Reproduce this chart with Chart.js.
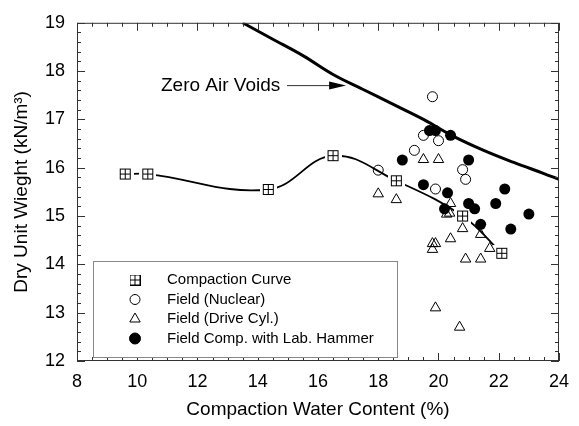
<!DOCTYPE html>
<html>
<head>
<meta charset="utf-8">
<script src="https://cdn.jsdelivr.net/npm/chart.js@4.4.1/dist/chart.umd.min.js"></script>
<style>
  html, body { margin: 0; padding: 0; background: #fff; }
</style>
</head>
<body>
<canvas id="chart" width="579" height="426"></canvas>
<script>
const seriesNames = ['Compaction Curve', 'Field (Nuclear)', 'Field (Drive Cyl.)', 'Field Comp. with Lab. Hammer'];

// compaction curve (lab)
const compactionW = [9.6, 10.35, 14.35, 16.5, 18.6, 20.8, 22.1];
const compactionG = [15.87, 15.87, 15.55, 16.25, 15.73, 15.0, 14.23];

// field (nuclear) - open circles
const nuclearW = [19.8, 19.5, 20.0, 19.2, 18.0, 20.8, 20.9, 19.9];
const nuclearG = [17.47, 16.67, 16.56, 16.36, 15.95, 15.96, 15.76, 15.56];

// field (drive cylinder) - open triangles
const driveW = [19.5, 20.0, 18.0, 18.6, 20.4, 20.27, 20.37, 20.8, 21.4, 20.4, 19.8, 19.9, 19.8, 21.7, 20.9, 21.4, 19.9, 20.7];
const driveG = [16.17, 16.17, 15.46, 15.34, 15.26, 15.04, 15.06, 14.74, 14.62, 14.53, 14.43, 14.43, 14.31, 14.33, 14.11, 14.11, 13.1, 12.7];

// field compaction with lab hammer - filled circles
const hammerW = [19.7, 19.9, 20.4, 18.8, 21.0, 19.5, 20.3, 22.2, 20.2, 21.0, 21.2, 21.9, 23.0, 22.4, 21.4];
const hammerG = [16.77, 16.77, 16.67, 16.16, 16.16, 15.65, 15.48, 15.56, 15.15, 15.26, 15.15, 15.26, 15.04, 14.73, 14.83];

// zero air voids line
const zavW = [13.5, 14.5, 15.5, 16.5, 17.5, 18.5, 19.5, 20.5, 21.5, 22.5, 23.5, 24.0];
const zavG = [19.0, 18.66, 18.32, 17.93, 17.62, 17.31, 17.0, 16.65, 16.36, 16.11, 15.88, 15.76];

const zavLabel = 'Zero Air Voids';
const xTitle = 'Compaction Water Content (%)';
const yTitle = 'Dry Unit Wieght (kN/m\u00b3)';

Chart.defaults.font.family = "'Liberation Sans', Arial, sans-serif";
Chart.defaults.color = '#000';

function toPoints(xs, ys) {
  return xs.map((x, i) => ({ x: x, y: ys[i] }));
}

// square with a cross, optional white halo so the curve breaks near it
function makeBoxCross(halo) {
  const size = 11;
  const full = size + halo * 2;
  const c = document.createElement('canvas');
  c.width = full; c.height = full;
  const g = c.getContext('2d');
  if (halo > 0) {
    g.fillStyle = '#fff';
    g.fillRect(0, 0, full, full);
  }
  g.fillStyle = '#fff';
  g.fillRect(halo, halo, size, size);
  g.strokeStyle = '#000';
  g.lineWidth = 1;
  g.strokeRect(halo + 0.5, halo + 0.5, size - 1, size - 1);
  g.beginPath();
  g.moveTo(halo + 5.5, halo); g.lineTo(halo + 5.5, halo + size);
  g.moveTo(halo, halo + 5.5); g.lineTo(halo + size, halo + 5.5);
  g.stroke();
  return c;
}
const boxCross = makeBoxCross(3);
const boxCrossPlain = makeBoxCross(0);

const symbols = [
  { pointStyle: boxCrossPlain, radius: 5, fill: '#fff' },
  { pointStyle: 'circle', radius: 5, fill: 'rgba(0,0,0,0)' },
  { pointStyle: 'triangle', radius: 6, fill: 'rgba(0,0,0,0)' },
  { pointStyle: 'circle', radius: 5.5, fill: '#000' }
];

const frameTicks = {
  id: 'frameTicks',
  afterDatasetsDraw(chart) {
    const { ctx, chartArea: a, scales: { x, y } } = chart;
    ctx.save();
    ctx.strokeStyle = '#333';
    ctx.lineWidth = 1;
    ctx.strokeRect(a.left + 0.5, a.top + 0.5, a.right - a.left - 1, a.bottom - a.top - 1);
    ctx.beginPath();
    for (let i = 0; i <= 32; i++) {
      const px = Math.round(x.getPixelForValue(8 + i * 0.5)) + 0.5;
      const len = i % 4 === 0 ? 8 : 4;
      ctx.moveTo(px, a.bottom); ctx.lineTo(px, a.bottom - len);
      ctx.moveTo(px, a.top); ctx.lineTo(px, a.top + len);
    }
    for (let i = 0; i <= 35; i++) {
      const py = Math.round(y.getPixelForValue(12 + i * 0.2)) + 0.5;
      const len = i % 5 === 0 ? 8 : 4;
      ctx.moveTo(a.left, py); ctx.lineTo(a.left + len, py);
      ctx.moveTo(a.right, py); ctx.lineTo(a.right - len, py);
    }
    ctx.stroke();

    // annotation for the zero air voids line
    const ty = y.getPixelForValue(17.7);
    ctx.font = "19px 'Liberation Sans', Arial, sans-serif";
    ctx.fillStyle = '#000';
    ctx.textAlign = 'right';
    ctx.textBaseline = 'middle';
    ctx.fillText(zavLabel, x.getPixelForValue(14.75), ty);
    const x0 = x.getPixelForValue(14.97);
    const xb = x.getPixelForValue(16.37);
    const xt = x.getPixelForValue(16.93);
    ctx.beginPath();
    ctx.moveTo(x0, ty); ctx.lineTo(xb + 2, ty);
    ctx.stroke();
    ctx.beginPath();
    ctx.moveTo(xt, ty); ctx.lineTo(xb, ty - 4); ctx.lineTo(xb, ty + 4); ctx.closePath();
    ctx.fill();

    // legend box
    const bx = 93, by = 261, bw = 304, bh = 96;
    ctx.fillStyle = '#fff';
    ctx.fillRect(bx, by, bw, bh);
    ctx.strokeStyle = '#888';
    ctx.strokeRect(bx + 0.5, by + 0.5, bw, bh);
    ctx.font = "15px 'Liberation Sans', Arial, sans-serif";
    ctx.textAlign = 'left';
    seriesNames.forEach((name, i) => {
      const ry = 280 + i * 19.5;
      const s = symbols[i];
      ctx.fillStyle = s.fill;
      ctx.strokeStyle = '#000';
      ctx.lineWidth = 1;
      Chart.helpers.drawPoint(ctx, { pointStyle: s.pointStyle, radius: s.radius, borderWidth: 1, rotation: 0 }, 135, ry);
      ctx.fillStyle = '#000';
      ctx.fillText(name, 167, ry);
    });
    ctx.restore();
  }
};

new Chart(document.getElementById('chart'), {
  type: 'scatter',
  data: {
    datasets: [
      {
        label: seriesNames[0],
        data: toPoints(compactionW, compactionG),
        showLine: true,
        tension: 0.4,
        borderColor: '#000',
        borderWidth: 1.8,
        pointStyle: boxCross,
        pointRadius: 5,
        backgroundColor: '#fff',
        order: 5
      },
      {
        label: zavLabel,
        data: toPoints(zavW, zavG),
        showLine: true,
        tension: 0.4,
        borderColor: '#000',
        borderWidth: 3,
        pointRadius: 0,
        order: 4
      },
      {
        label: seriesNames[1],
        data: toPoints(nuclearW, nuclearG),
        pointStyle: 'circle',
        pointRadius: 5,
        borderColor: '#000',
        borderWidth: 1,
        backgroundColor: 'rgba(0,0,0,0)',
        order: 3
      },
      {
        label: seriesNames[2],
        data: toPoints(driveW, driveG),
        pointStyle: 'triangle',
        pointRadius: 6,
        borderColor: '#000',
        borderWidth: 1,
        backgroundColor: 'rgba(0,0,0,0)',
        order: 2
      },
      {
        label: seriesNames[3],
        data: toPoints(hammerW, hammerG),
        pointStyle: 'circle',
        pointRadius: 5.5,
        borderColor: '#000',
        borderWidth: 0,
        backgroundColor: '#000',
        order: 1
      }
    ]
  },
  options: {
    responsive: false,
    animation: false,
    layout: { padding: { top: 17, right: 9, left: 0, bottom: 0 } },
    plugins: {
      legend: { display: false },
      tooltip: { enabled: false }
    },
    scales: {
      x: {
        type: 'linear',
        min: 8,
        max: 24,
        afterFit: s => { s.height = 65; },
        grid: { display: false, drawTicks: false },
        border: { display: false },
        ticks: { stepSize: 2, padding: 10, font: { size: 18 }, color: '#000' },
        title: { display: true, text: xTitle, font: { size: 19 }, color: '#000', padding: { top: 0, bottom: 5 } }
      },
      y: {
        type: 'linear',
        min: 12,
        max: 19,
        afterFit: s => { s.width = 77; },
        grid: { display: false, drawTicks: false },
        border: { display: false },
        ticks: { stepSize: 1, padding: 12, font: { size: 18 }, color: '#000' },
        title: { display: true, text: yTitle, font: { size: 19 }, color: '#000', padding: { top: 10, bottom: 0 } }
      }
    }
  },
  plugins: [frameTicks]
});
</script>
</body>
</html>
